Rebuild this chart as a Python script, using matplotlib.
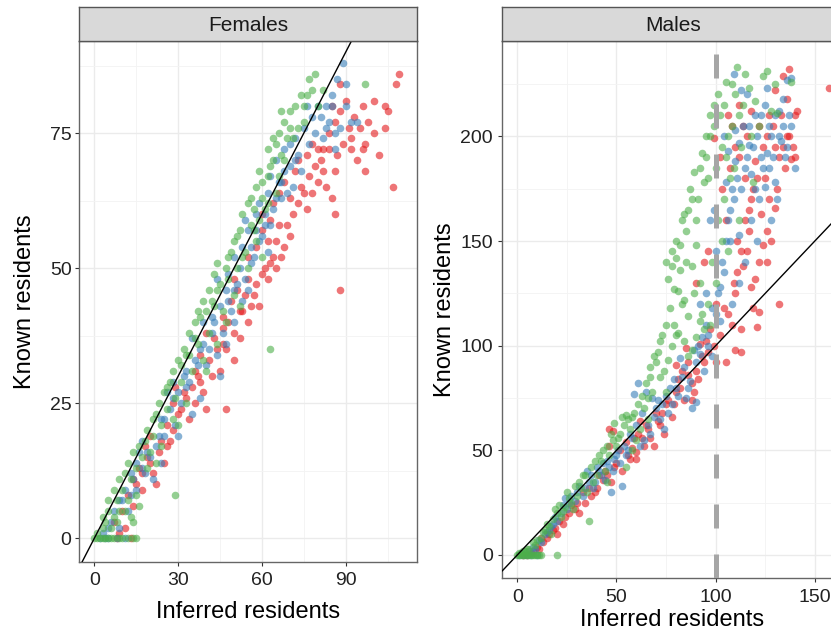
import numpy as np
import matplotlib
matplotlib.use("Agg")
import matplotlib.pyplot as plt

plt.rcParams['font.family'] = ['Liberation Sans', 'DejaVu Sans']

# colours (Set1)
c_red = '#E41A1C'
c_blue = '#377EB8'
c_green = '#4DAF4A'

# ---- Females: (inferred, known) ----
f_green = [(0, 0), (1, 0), (2, 0), (3, 0), (4, 0), (5, 0), (6, 0), (7, 0), (9, 0), (10, 0), (12, 0), (14, 0), (15, 0),
           (1, 1), (3, 2), (4, 3), (6, 2), (8, 3), (5, 5), (7, 4), (9, 5), (11, 5), (13, 4), (12, 7), (8, 7), (10, 9),
           (15, 8), (16, 6), (14, 3), (29, 8),
           (11, 12), (13, 11), (15, 13), (17, 15), (19, 13), (14, 16), (18, 18), (20, 16), (22, 14), (21, 19), (24, 17),
           (22, 23), (24, 21), (26, 24), (28, 22), (25, 27), (29, 26), (31, 29), (27, 29), (33, 25), (30, 21),
           (31, 32), (33, 34), (35, 31), (37, 36), (34, 38), (39, 33), (41, 38), (36, 40), (44, 36), (40, 31),
           (40, 42), (42, 44), (44, 46), (46, 42), (48, 48), (43, 49), (50, 45), (52, 43), (47, 40), (63, 35),
           (48, 52), (50, 55), (52, 57), (54, 53), (56, 58), (53, 60), (58, 55), (60, 52), (55, 50), (57, 61),
           (56, 63), (58, 65), (60, 66), (62, 62), (59, 68), (63, 69), (65, 64), (66, 67), (61, 61), (64, 70),
           (62, 72), (65, 73), (66, 75), (68, 77), (70, 79), (67, 79), (72, 80), (74, 82), (76, 82), (78, 83),
           (82, 83), (80, 80), (97, 84), (70, 76), (69, 74), (75, 77),
           (3, 4), (5, 7), (7, 9), (9, 11), (12, 14), (16, 17), (19, 20), (21, 22), (23, 25), (26, 28), (28, 31),
           (30, 33), (32, 35), (34, 34), (36, 37), (38, 41), (39, 44), (41, 46), (43, 43), (45, 47), (47, 50),
           (49, 53), (51, 50), (51, 56), (53, 52), (55, 62), (57, 57), (59, 59), (60, 63), (62, 67), (64, 74),
           (67, 71), (68, 70), (71, 74), (73, 76), (75, 80), (77, 85), (79, 86), (44, 51), (37, 42)]

f_blue = [(2, 0), (4, 0), (5, 0), (8, 0), (11, 0), (3, 1), (6, 3), (9, 2), (12, 5), (10, 7), (13, 8), (15, 9),
          (13, 12), (15, 14), (16, 16), (18, 12), (20, 15), (22, 17), (17, 18), (24, 14), (21, 11), (25, 19),
          (24, 22), (27, 24), (29, 21), (26, 27), (31, 25), (33, 28), (28, 29), (35, 23), (30, 19), (38, 26),
          (33, 31), (36, 33), (38, 35), (40, 32), (35, 37), (42, 38), (44, 34), (39, 40), (45, 30), (47, 36),
          (42, 41), (45, 43), (47, 46), (49, 42), (44, 48), (51, 47), (53, 44), (50, 40), (55, 46), (48, 49),
          (50, 52), (53, 54), (55, 57), (57, 52), (59, 55), (54, 59), (61, 58), (58, 60), (62, 53), (56, 51),
          (59, 62), (62, 64), (64, 61), (66, 66), (68, 68), (63, 67), (70, 69), (67, 63), (71, 65), (65, 70),
          (68, 72), (72, 74), (75, 76), (73, 71), (76, 80), (80, 80), (83, 80), (85, 80), (88, 76), (86, 75),
          (90, 84), (89, 88), (94, 77), (78, 78), (82, 74),
          (5, 2), (7, 5), (9, 7), (11, 9), (14, 11), (17, 13), (19, 16), (23, 19), (25, 22), (28, 26), (30, 27),
          (32, 30), (34, 29), (37, 32), (39, 36), (41, 35), (43, 40), (46, 38), (48, 44), (50, 46), (52, 50),
          (54, 48), (56, 54), (58, 57), (60, 56), (61, 60), (63, 58), (65, 63), (67, 66), (69, 64), (72, 70),
          (74, 68), (77, 73), (79, 75), (81, 78), (84, 77), (86, 72), (90, 80), (92, 77), (87, 85), (85, 82),
          (83, 76), (70, 73)]

f_red = [(8, 0), (13, 0), (7, 3), (10, 5), (12, 8), (14, 6), (17, 9), (11, 2),
         (14, 11), (16, 13), (19, 15), (21, 12), (18, 17), (23, 16), (25, 14), (20, 19), (27, 18), (22, 10),
         (26, 21), (28, 25), (30, 23), (32, 27), (34, 22), (29, 28), (36, 25), (38, 29), (40, 24), (47, 24),
         (36, 31), (38, 34), (41, 33), (43, 37), (45, 31), (40, 38), (47, 35), (50, 33), (52, 37), (46, 39),
         (46, 41), (49, 44), (51, 46), (53, 42), (55, 48), (57, 45), (50, 48), (59, 43), (61, 50), (55, 40),
         (55, 52), (58, 54), (60, 57), (62, 55), (64, 52), (60, 60), (66, 58), (68, 54), (70, 56), (65, 50),
         (88, 46), (63, 59),
         (64, 62), (66, 64), (68, 66), (70, 63), (72, 68), (74, 65), (76, 61), (78, 64), (80, 66), (73, 70),
         (82, 68), (86, 60),
         (76, 71), (78, 73), (80, 72), (82, 72), (84, 75), (86, 77), (88, 79), (90, 81), (92, 74), (95, 76),
         (97, 73), (97, 68), (102, 71), (107, 65), (104, 76), (105, 79), (104, 80), (100, 81), (96, 80),
         (109, 86), (108, 84), (88, 84), (85, 80), (94, 70), (92, 72),
         (9, 1), (15, 10), (17, 12), (20, 14), (24, 18), (26, 17), (28, 20), (31, 24), (33, 26), (35, 28),
         (37, 30), (39, 27), (42, 30), (44, 35), (46, 36), (48, 40), (50, 38), (52, 42), (54, 45), (56, 43),
         (58, 47), (60, 49), (62, 48), (63, 51), (65, 55), (67, 52), (69, 58), (71, 60), (73, 62), (75, 64),
         (77, 67), (79, 69), (81, 70), (83, 65), (85, 63), (87, 71), (89, 73), (91, 76), (93, 78), (96, 72),
         (100, 75), (98, 77), (84, 72), (86, 68)]

# ---- Males: (inferred, known) ----
m_green = [(0, 0), (1, 0), (2, 0), (3, 0), (4, 0), (5, 0), (6, 0), (7, 0), (8, 0), (9, 0), (10, 0), (11, 0), (12, 0),
           (20, 0), (2, 1), (4, 2), (6, 3), (9, 5), (12, 8), (14, 12), (16, 14), (18, 17), (20, 20), (17, 10),
           (22, 18), (24, 23), (26, 27), (28, 22), (30, 28), (36, 16), (27, 25), (32, 32), (35, 30), (34, 38),
           (38, 35), (40, 38), (42, 45), (44, 40), (46, 48), (45, 35), (48, 55), (50, 52), (52, 58), (54, 62),
           (55, 42), (56, 65), (58, 66), (58, 50), (60, 55), (62, 60), (64, 70), (66, 65), (66, 75), (68, 78),
           (67, 90), (70, 92), (71, 97), (72, 85), (72, 102), (74, 88), (75, 78), (76, 93), (78, 100),
           (79, 110), (81, 106), (79, 127), (81, 126), (83, 120), (84, 122), (85, 140), (88, 138), (82, 136),
           (86, 114), (89, 125), (90, 148), (92, 130), (80, 150), (78, 145), (75, 140), (83, 160), (84, 163),
           (91, 170), (87, 175), (89, 183), (94, 178), (93, 192), (86, 95), (88, 98), (90, 104), (92, 112),
           (94, 108), (84, 102), (80, 105),
           (96, 180), (95, 190), (97, 200), (99, 205), (102, 210), (104, 215), (100, 185), (103, 195), (106, 200),
           (108, 205), (111, 233), (115, 230), (126, 231), (124, 229), (110, 220), (112, 210), (105, 190),
           (107, 180), (101, 160), (103, 150), (98, 140), (100, 130), (96, 120), (104, 170), (109, 185),
           (113, 195), (118, 200), (114, 215), (120, 217), (108, 225), (117, 223), (122, 205), (128, 212),
           (130, 225), (119, 178), (112, 160), (106, 145), (97, 110), (93, 115), (131, 211), (138, 226),
           (1, 1), (3, 2), (5, 3), (8, 6), (10, 7), (13, 11), (15, 15), (19, 22), (21, 24), (23, 21), (25, 30),
           (29, 33), (31, 35), (33, 38), (37, 42), (39, 45), (41, 48), (43, 50), (45, 52), (47, 58), (49, 63),
           (51, 56), (53, 66), (55, 67), (57, 60), (59, 68), (61, 72), (63, 76), (65, 82), (67, 85), (69, 95),
           (73, 105), (75, 110), (77, 118), (76, 132), (78, 138), (80, 142), (82, 148), (85, 155), (86, 165),
           (88, 170), (90, 160), (92, 185), (95, 200), (97, 210), (99, 215), (101, 220), (105, 226)]

m_blue = [(1, 0), (3, 0), (5, 0), (7, 0), (10, 0), (2, 1), (6, 2), (8, 4), (11, 7), (14, 10), (16, 12), (17, 14),
          (19, 18), (22, 20), (25, 22), (24, 27), (27, 28), (30, 30), (33, 28), (36, 35), (35, 40), (38, 32),
          (40, 42), (42, 38), (45, 45), (48, 40), (47, 30), (50, 48), (52, 44), (53, 33), (55, 48), (57, 58),
          (59, 77), (61, 82), (60, 62), (62, 52), (64, 55), (65, 78), (67, 58), (68, 75), (70, 70), (72, 65),
          (74, 60), (76, 68), (78, 72), (80, 80), (82, 94), (83, 85), (85, 75), (87, 83), (88, 70), (90, 73),
          (90, 92), (92, 96), (94, 88), (96, 100), (98, 95),
          (100, 115), (96, 105), (102, 112), (108, 120), (112, 130), (100, 145), (102, 128), (104, 135), (95, 125),
          (92, 120), (97, 160), (106, 160), (108, 175), (110, 188), (112, 197), (114, 205), (116, 190), (118, 182),
          (120, 175), (122, 170), (124, 185), (126, 192), (128, 200), (130, 210), (132, 212), (134, 218),
          (136, 227), (138, 228), (126, 223), (120, 210), (116, 220), (110, 203), (106, 193), (118, 160),
          (125, 176), (130, 178), (135, 190), (138, 205), (140, 185), (128, 160), (121, 150), (115, 140),
          (112, 153), (107, 150), (99, 165), (105, 178), (133, 198), (137, 210), (104, 200), (109, 230),
          (113, 222), (123, 190), (127, 205), (131, 170), (117, 196),
          (4, 1), (9, 3), (12, 6), (15, 11), (18, 15), (20, 16), (23, 24), (26, 25), (29, 26), (31, 33), (34, 32),
          (37, 38), (39, 35), (41, 40), (43, 44), (44, 36), (46, 42), (49, 46), (51, 50), (54, 52), (56, 50),
          (58, 56), (63, 68), (66, 62), (69, 66), (71, 74), (73, 72), (75, 76), (77, 80), (79, 84), (81, 76),
          (84, 90), (86, 80), (89, 98), (91, 100), (93, 104), (95, 110), (98, 118), (101, 125), (103, 140),
          (105, 150), (107, 165), (109, 170), (111, 180), (113, 175), (115, 185), (117, 205), (119, 195),
          (121, 200), (123, 210), (125, 215), (127, 185), (129, 190), (132, 200), (134, 205), (136, 195)]

m_red = [(5, 0), (8, 2), (10, 4), (13, 6), (15, 8), (18, 12), (20, 10), (23, 15), (26, 20), (29, 22), (31, 20),
         (34, 25), (37, 28), (40, 32), (43, 36), (45, 38), (47, 35), (46, 52), (46, 60), (48, 59), (50, 44),
         (53, 40), (56, 48), (58, 51), (60, 46), (60, 49), (62, 64), (63, 56), (66, 60), (69, 52), (70, 68),
         (72, 62), (74, 58), (75, 72), (78, 66), (80, 78), (80, 91), (82, 80), (84, 74), (85, 99), (86, 86),
         (88, 74), (88, 82), (91, 84), (92, 101), (94, 92), (96, 97), (99, 100), (100, 92), (105, 92), (110, 98),
         (113, 97),
         (104, 118), (108, 110), (110, 125), (114, 138), (116, 145), (118, 128), (120, 132), (121, 109),
         (122, 116), (122, 140), (124, 148), (126, 155), (128, 150), (130, 166), (123, 163), (118, 170),
         (115, 180), (112, 190), (110, 195), (114, 205), (118, 212), (122, 205), (126, 200), (130, 195),
         (132, 190), (134, 195), (136, 200), (138, 189), (140, 190), (140, 210), (136, 218), (130, 222),
         (134, 229), (137, 232), (141, 212), (127, 170), (119, 118), (113, 108), (132, 120), (157, 223),
         (106, 210), (99, 199), (102, 190), (108, 205), (120, 188), (125, 180), (131, 175), (96, 145),
         (105, 160), (111, 150), (90, 130), (94, 140), (100, 120), (117, 155), (126, 140),
         (3, 0), (7, 1), (11, 3), (12, 8), (16, 10), (19, 13), (21, 16), (24, 18), (27, 24), (30, 25), (33, 30),
         (36, 32), (39, 30), (41, 38), (44, 40), (49, 42), (52, 50), (55, 54), (57, 46), (59, 56), (61, 58),
         (64, 52), (65, 62), (67, 56), (71, 64), (73, 68), (76, 74), (79, 72), (81, 84), (83, 88), (86, 92),
         (89, 78), (90, 88), (93, 95), (95, 102), (97, 108), (102, 105), (106, 115), (109, 130), (111, 135),
         (113, 145), (115, 160), (117, 165), (119, 175), (121, 180), (124, 195), (127, 210), (129, 205),
         (133, 210), (135, 185), (137, 200), (139, 195), (116, 200), (112, 215), (103, 175), (107, 185)]

male_cutoff = 100

W, H = 831, 630
fig = plt.figure(figsize=(W / 100, H / 100), dpi=100)


def px_axes(x0, y0, x1, y1):
    return [x0 / W, 1 - y1 / H, (x1 - x0) / W, (y1 - y0) / H]


def style_panel(ax, xticks, xminor, yticks, yminor, xpad, ypad):
    ax.set_xticks(xticks)
    ax.set_yticks(yticks)
    ax.set_xticks(xminor, minor=True)
    ax.set_yticks(yminor, minor=True)
    ax.grid(which='major', color='#EBEBEB', lw=1.0, zorder=0)
    ax.grid(which='minor', color='#F3F3F3', lw=0.6, zorder=0)
    ax.set_axisbelow(True)
    ax.tick_params(which='major', length=2.75, width=0.8, color='#333333', labelsize=14, labelcolor='#222222')
    ax.tick_params(axis='x', pad=xpad)
    ax.tick_params(axis='y', pad=ypad)
    ax.tick_params(which='minor', length=0)
    for s in ax.spines.values():
        s.set_color('#666666')
        s.set_linewidth(1.0)


def strip(x0, x1, label):
    sax = fig.add_axes(px_axes(x0, 7.3, x1, 40.7))
    sax.set_facecolor('#D9D9D9')
    sax.set_xticks([])
    sax.set_yticks([])
    for s in sax.spines.values():
        s.set_color('#555555')
        s.set_linewidth(1.0)
    sax.text(0.5, 0.45, label, ha='center', va='center', fontsize=15, color='#1A1A1A', transform=sax.transAxes)


def scatter_groups(ax, groups):
    for pts, col in groups:
        a = np.array(pts, dtype=float)
        ax.scatter(a[:, 0], a[:, 1], s=30, color=col, alpha=0.6, linewidths=0, zorder=2)


# Females panel
ax1 = fig.add_axes(px_axes(79.3, 40.7, 416.7, 562.3))
scatter_groups(ax1, [(f_red, c_red), (f_blue, c_blue), (f_green, c_green)])
ax1.axline((0, 0), slope=1, color='black', lw=1.0, zorder=3)
ax1.set_xlim(-5.37, 115.4)
ax1.set_ylim(-4.44, 92.1)
style_panel(ax1, [0, 30, 60, 90], [15, 45, 75, 105], [0, 25, 50, 75], [12.5, 37.5, 62.5, 87.5], 4.5, 2.8)
strip(79.3, 416.7, 'Females')

# Males panel (right side cut by the figure edge)
ax2 = fig.add_axes(px_axes(502.3, 40.7, 844, 577.7))
scatter_groups(ax2, [(m_red, c_red), (m_blue, c_blue), (m_green, c_green)])
ylo, yhi = -10.85, 245.7
ax2.plot([male_cutoff, male_cutoff], [ylo, yhi], color='#A6A6A6', lw=3.6, dashes=(4.8, 5.2), zorder=3)
ax2.axline((0, 0), slope=1, color='black', lw=1.0, zorder=3)
ax2.set_xlim(-7.56, 164.7)
ax2.set_ylim(ylo, yhi)
style_panel(ax2, [0, 50, 100, 150], [25, 75, 125], [0, 50, 100, 150, 200], [25, 75, 125, 175, 225], 5.5, 4.0)
strip(502.3, 844, 'Males')

# axis titles
fig.text(31.5 / W, 1 - 301.5 / H, 'Known residents', rotation=90, ha='center', va='baseline', fontsize=17,
         rotation_mode='anchor')
fig.text(451.5 / W, 1 - 309.2 / H, 'Known residents', rotation=90, ha='center', va='baseline', fontsize=17,
         rotation_mode='anchor')
fig.text(248 / W, 1 - 618.3 / H, 'Inferred residents', ha='center', va='baseline', fontsize=17)
fig.text(672.5 / W, 1 - 626.5 / H, 'Inferred residents', ha='center', va='baseline', fontsize=17)

fig.savefig('out.png', dpi=100)
